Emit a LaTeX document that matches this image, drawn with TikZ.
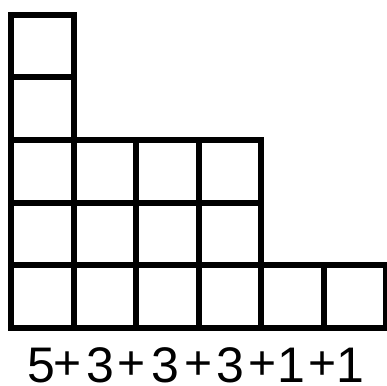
\documentclass[tikz,border=0pt]{standalone}
\usepackage{fontspec}
\setmainfont{Liberation Sans}
\begin{document}
\begin{tikzpicture}[x=1pt,y=-1pt,
  cell/.style={draw=black,line width=6pt,line join=miter},
  digit/.style={anchor=base,inner sep=0pt,font=\fontsize{50}{50}\selectfont},
  plussign/.style={anchor=center,inner sep=0pt,font=\fontsize{48}{48}\selectfont}]
\useasboundingbox (0,0) rectangle (387,385);
% column 1: height 5
\foreach \r in {0,...,4}{
  \draw[cell] (11,{15+62.5*\r}) rectangle (73.5,{77.5+62.5*\r});
}
% columns 2-4: height 3
\foreach \c in {1,2,3}{
  \foreach \r in {2,3,4}{
    \draw[cell] ({11+62.5*\c},{15+62.5*\r}) rectangle ({73.5+62.5*\c},{77.5+62.5*\r});
  }
}
% columns 5-6: height 1
\foreach \c in {4,5}{
  \draw[cell] ({11+62.5*\c},265) rectangle ({73.5+62.5*\c},327.5);
}
% label
\node[digit] (d1) at (41,382) {5};
\node[plussign] (p1) at (68,366) {+};
\node[digit] (d2) at (100,382) {3};
\node[plussign] (p2) at (132,366) {+};
\node[digit] (d3) at (165,382) {3};
\node[plussign] (p3) at (199,366) {+};
\node[digit] (d4) at (230,382) {3};
\node[plussign] (p4) at (263,366) {+};
\node[digit] (d5) at (291,382) {1};
\node[plussign] (p5) at (323,366) {+};
\node[digit] (d6) at (350,382) {1};
\end{tikzpicture}
\end{document}
